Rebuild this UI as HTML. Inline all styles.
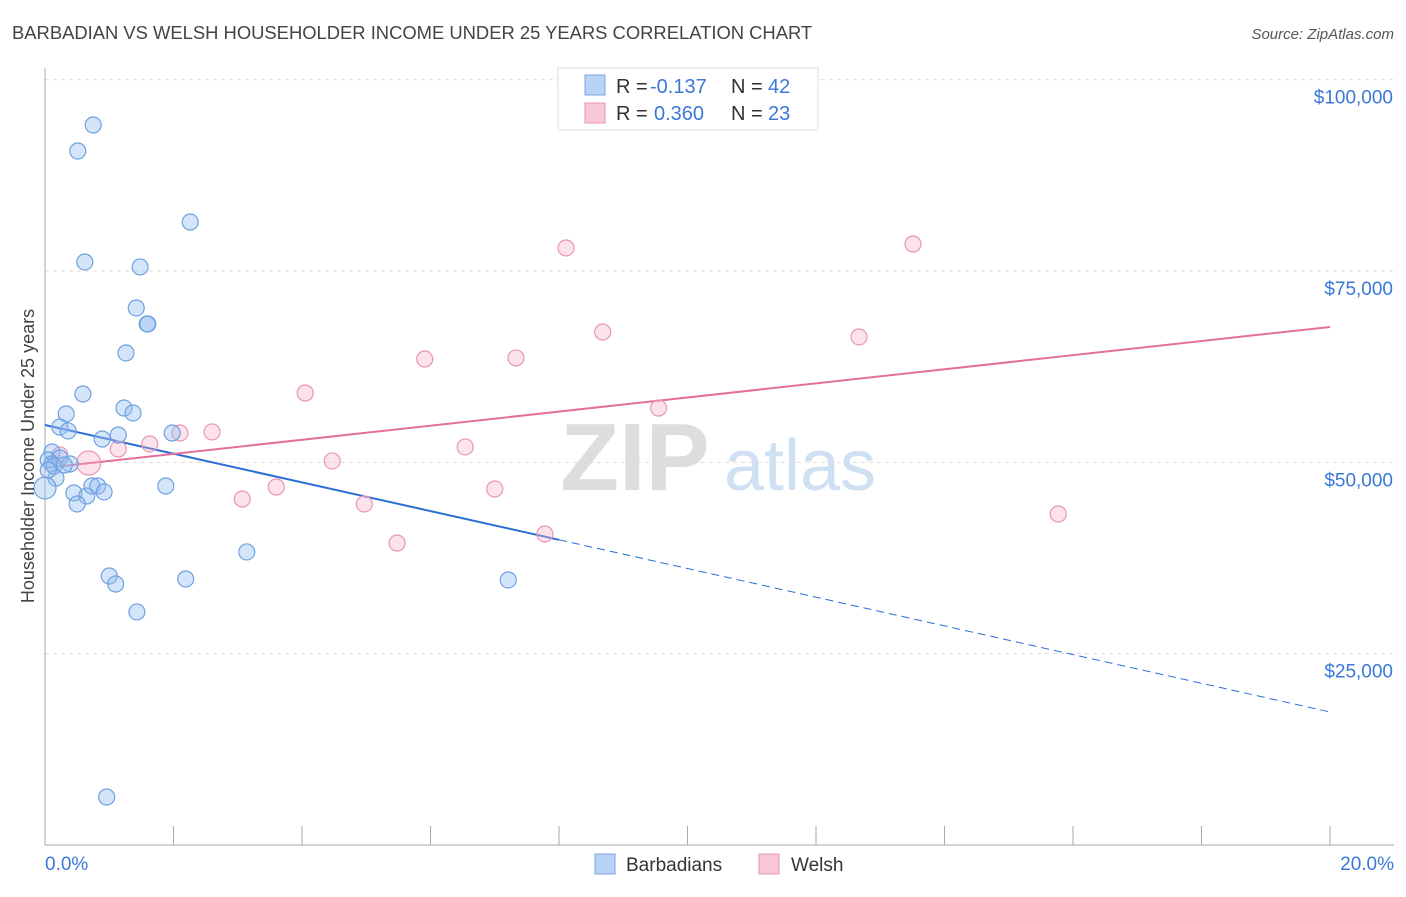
<!DOCTYPE html>
<html><head><meta charset="utf-8">
<style>
body{margin:0;background:#fff;font-family:"Liberation Sans",sans-serif;}
svg text{font-family:"Liberation Sans",sans-serif;}
</style></head><body>
<svg id="chart" width="1406" height="892" viewBox="0 0 1406 892" xmlns="http://www.w3.org/2000/svg">
<text x="12" y="39" font-size="18.4" fill="#444">BARBADIAN VS WELSH HOUSEHOLDER INCOME UNDER 25 YEARS CORRELATION CHART</text>
<text x="1394" y="39" font-size="15" fill="#555" text-anchor="end" font-style="italic">Source: ZipAtlas.com</text>
<g>
<text x="635" y="490" font-size="96" fill="#ddd" text-anchor="middle" font-family="Liberation Serif" font-weight="bold">ZIP</text>
<text x="800" y="490" font-size="72" fill="#cfe0f3" text-anchor="middle">atlas</text>
</g>
<g id="grid"></g>
<g id="axes"></g>
<g id="lines"></g>
<g id="points"></g>
<text transform="translate(34,456) rotate(-90)" font-size="18" fill="#444" text-anchor="middle">Householder Income Under 25 years</text>
<g>
<rect x="558" y="68" width="260" height="62" fill="#fff" stroke="#ddd"/>
<rect x="585" y="75" width="20" height="20" fill="#b8d3f5" stroke="#7aa6e0"/>
<text x="616" y="93" font-size="20" fill="#333">R =</text>
<text x="650" y="93" font-size="20" fill="#3a78d8">-0.137</text>
<text x="731" y="93" font-size="20" fill="#333">N =</text>
<text x="768" y="93" font-size="20" fill="#3a78d8">42</text>
<rect x="585" y="103" width="20" height="20" fill="#f9c8d7" stroke="#e896b4"/>
<text x="616" y="120" font-size="20" fill="#333">R =</text>
<text x="654" y="120" font-size="20" fill="#3a78d8">0.360</text>
<text x="731" y="120" font-size="20" fill="#333">N =</text>
<text x="768" y="120" font-size="20" fill="#3a78d8">23</text>
</g>
<g>
<rect x="595" y="854" width="20" height="20" fill="#b8d3f5" stroke="#7aa6e0"/>
<text x="626" y="871" font-size="19" fill="#333">Barbadians</text>
<rect x="759" y="854" width="20" height="20" fill="#f9c8d7" stroke="#e896b4"/>
<text x="791" y="871" font-size="19" fill="#333">Welsh</text>
</g>
</svg>
<script>
const blueX=[0.75,0.51,2.26,0.62,1.48,1.42,1.59,1.60,1.26,0.59,1.23,0.33,1.37,0.23,0.36,1.14,1.98,0.89,0.11,0.05,0.23,0.11,0.39,0.17,0.45,0.65,0.73,0.82,0.92,1.88,0.50,0.0,3.14,1.0,1.1,2.19,1.43,7.21,0.96,0.14,0.05,0.30];
const blueY=[94080,90680,81400,76180,75530,70170,68080,68080,64290,58930,57100,56320,56450,54620,54100,53570,53830,53050,51350,50310,50570,49780,49780,47950,46000,45600,46910,46910,46130,46910,44560,46650,38290,35150,34100,34760,30450,34630,6270,49520,49000,49650];
const pinkX=[0.68,0.23,1.14,1.63,2.1,2.6,3.07,3.6,4.05,4.47,4.97,5.48,5.91,6.54,7.0,7.33,7.78,8.11,8.68,9.55,12.67,13.51,15.77];
const pinkY=[49910,50960,51740,52400,53830,53970,45210,46780,59060,50180,44560,39460,63500,52010,46520,63640,40640,78010,67030,57100,66380,78530,43250];
const yTicks=[25000,50000,75000,100000];
const yTickLabels=["$25,000","$50,000","$75,000","$100,000"];
const blueLine=[54880,17380];
const pinkLine=[49260,67690];
const NS="http://www.w3.org/2000/svg";
const sx=v=>45+v*64.25, sy=v=>845-v/25000*191.33;
function mk(t,a,p){const e=document.createElementNS(NS,t);for(const k in a)e.setAttribute(k,a[k]);p.appendChild(e);return e;}
const grid=document.getElementById('grid'),axes=document.getElementById('axes'),lines=document.getElementById('lines'),pts=document.getElementById('points');
yTicks.forEach((t,i)=>{
 const l=mk('line',{x1:45,x2:1394,y1:sy(t),y2:sy(t),stroke:'#ddd','stroke-dasharray':'4,4'},grid);
 
 
 const tx=mk('text',{x:1393,y:sy(t)+24,'font-size':19,fill:'#3a78d8','text-anchor':'end'},axes);
 tx.textContent=yTickLabels[i];
 
 
});
const ax=mk('line',{x1:45,x2:1394,y1:845,y2:845,stroke:'#aaa'},axes);


const ay=mk('line',{x1:45,x2:45,y1:68,y2:845,stroke:'#aaa'},axes);


for(let i=0;i<=20;i+=2){const t=mk('line',{x1:sx(i),x2:sx(i),y1:826,y2:845,stroke:'#aaa'},axes);
 
 }
const x0=mk('text',{x:45,y:870,'font-size':19,fill:'#3a78d8'},axes);x0.textContent='0.0%';


const x1=mk('text',{x:1394,y:870,'font-size':19,fill:'#3a78d8','text-anchor':'end'},axes);x1.textContent='20.0%';


const by=x=>blueLine[0]+(blueLine[1]-blueLine[0])*x/20;
let e=mk('line',{x1:sx(0),y1:sy(by(0)),x2:sx(8),y2:sy(by(8)),stroke:'#2a6fd6','stroke-width':2},lines);


e=mk('line',{x1:sx(8),y1:sy(by(8)),x2:sx(20),y2:sy(by(20)),stroke:'#2a6fd6','stroke-width':1,'stroke-dasharray':'8,5'},lines);


e=mk('line',{x1:sx(0),y1:sy(pinkLine[0]),x2:sx(20),y2:sy(pinkLine[1]),stroke:'#e3709a','stroke-width':2},lines);


pinkX.forEach((x,i)=>{const c=mk('circle',{cx:sx(x),cy:sy(pinkY[i]),r:i==0?12:8,fill:'rgba(245,175,198,0.35)',stroke:'#e896b4','stroke-width':1.2},pts);
 
 });
blueX.forEach((x,i)=>{const c=mk('circle',{cx:sx(x),cy:sy(blueY[i]),r:i==31?11:8,fill:'rgba(150,190,240,0.4)',stroke:'#6fa0e0','stroke-width':1.2},pts);
 
 });
</script>
</body></html>
